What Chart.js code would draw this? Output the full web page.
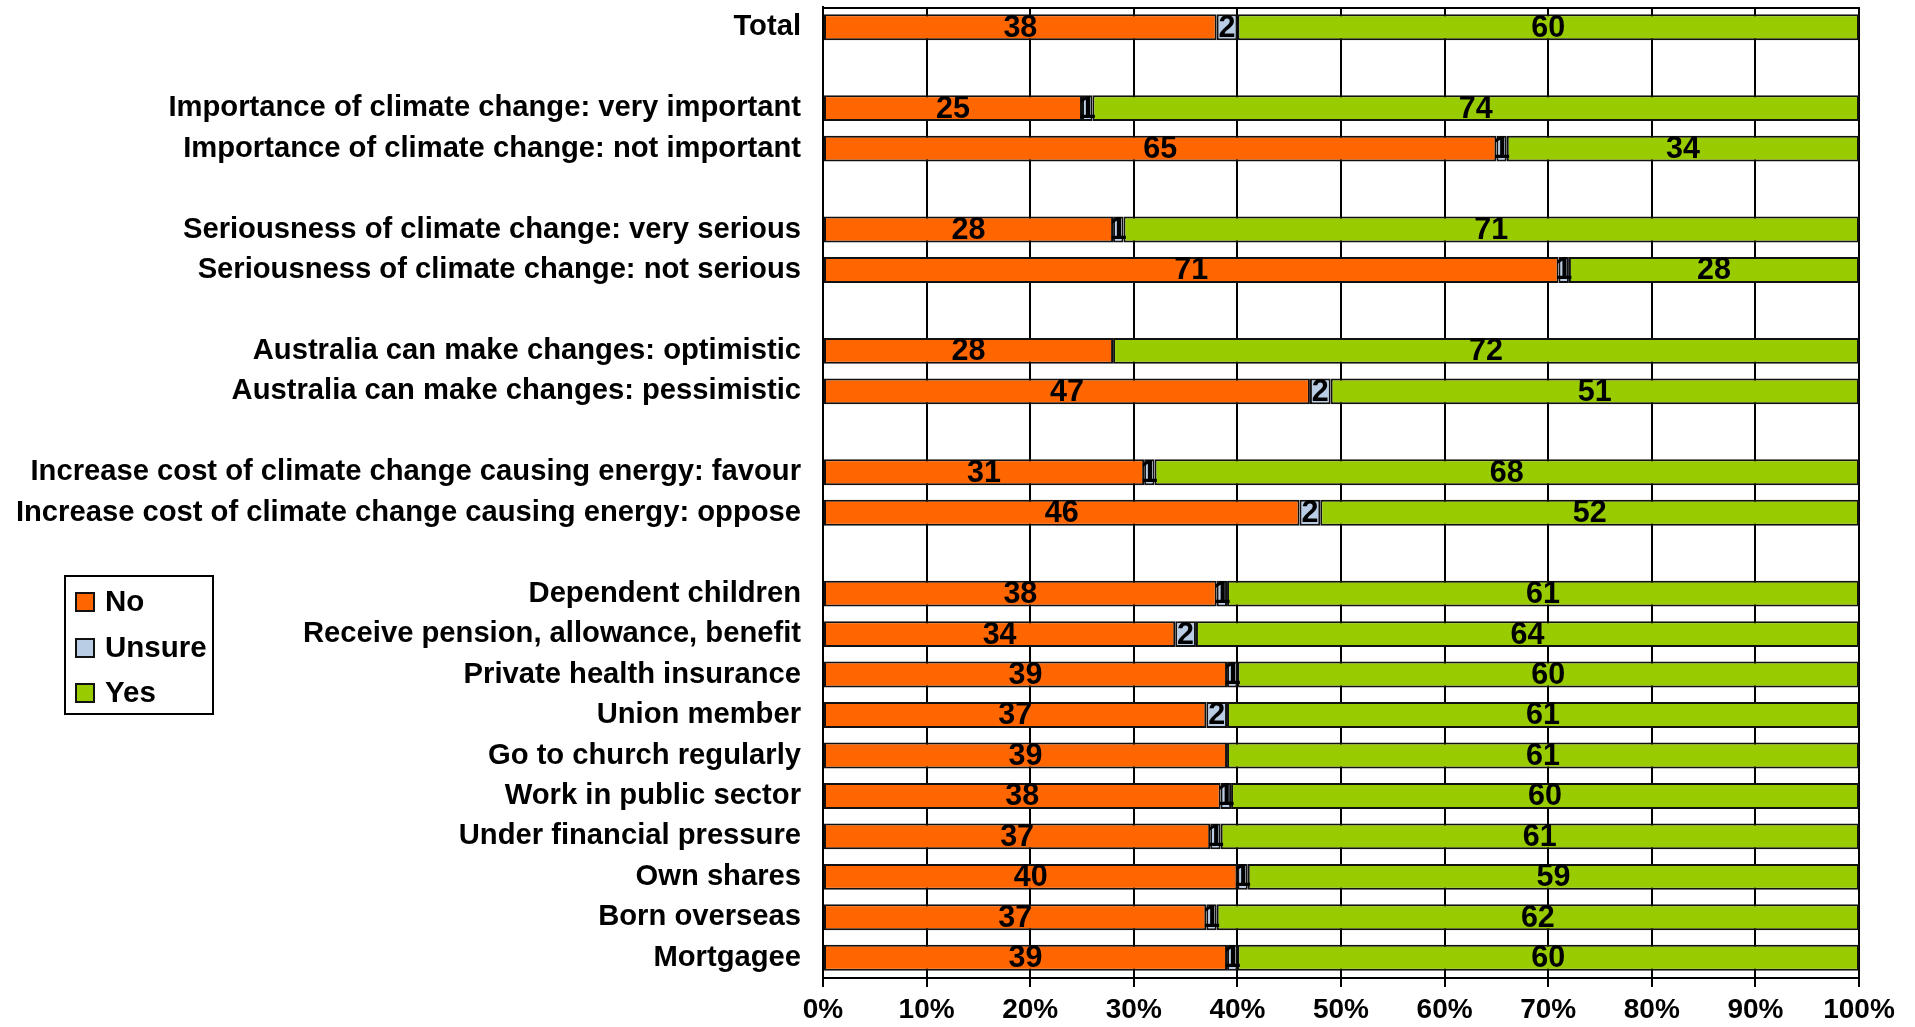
<!DOCTYPE html>
<html>
<head>
<meta charset="utf-8">
<script src="https://cdn.jsdelivr.net/npm/chart.js@4.4.1/dist/chart.umd.min.js"></script>
<style>
  html, body { margin: 0; padding: 0; background: #ffffff; }
  #wrap { width: 1915px; height: 1027px; position: relative; }
</style>
</head>
<body>
<div id="wrap"><canvas id="c" width="1915" height="1027"></canvas></div>
<script>
const categories = [
  "Total", "",
  "Importance of climate change: very important",
  "Importance of climate change: not important", "",
  "Seriousness of climate change: very serious",
  "Seriousness of climate change: not serious", "",
  "Australia can make changes: optimistic",
  "Australia can make changes: pessimistic", "",
  "Increase cost of climate change causing energy: favour",
  "Increase cost of climate change causing energy: oppose", "",
  "Dependent children",
  "Receive pension, allowance, benefit",
  "Private health insurance",
  "Union member",
  "Go to church regularly",
  "Work in public sector",
  "Under financial pressure",
  "Own shares",
  "Born overseas",
  "Mortgagee"
];
const seriesNames = ["No", "Unsure", "Yes"];
const noValues     = [38, null, 25, 65, null, 28, 71, null, 28, 47, null, 31, 46, null, 38, 34, 39, 37, 39, 38, 37, 40, 37, 39];
const unsureValues = [2,  null, 1,  1,  null, 1,  1,  null, 0,  2,  null, 1,  2,  null, 1,  2,  1,  2,  0,  1,  1,  1,  1,  1];
const yesValues    = [60, null, 74, 34, null, 71, 28, null, 72, 51, null, 68, 52, null, 61, 64, 60, 61, 61, 60, 61, 59, 62, 60];
const xTickValues  = [0, 10, 20, 30, 40, 50, 60, 70, 80, 90, 100];
const colors = ["#FF6600", "#B9CDE5", "#99CC00"];

const FONT = "'Liberation Sans', Arial, Helvetica, sans-serif";
const rawSeries = [noValues, unsureValues, yesValues];
// 100% stacked: normalise each row
const totals = categories.map((_, i) => rawSeries.reduce((s, a) => s + (a[i] || 0), 0));
const pctSeries = rawSeries.map(a => a.map((v, i) => (v === null || totals[i] === 0) ? null : v / totals[i] * 100));

const datasets = seriesNames.map((name, k) => ({
  label: name,
  data: pctSeries[k],
  raw: rawSeries[k],
  backgroundColor: colors[k],
  borderColor: "#111111",
  borderWidth: 2,
  borderSkipped: false,
  barPercentage: 1.0,
  categoryPercentage: 0.64
}));

const valueLabels = {
  id: "valueLabels",
  afterDatasetsDraw(chart) {
    const ctx = chart.ctx;
    ctx.save();
    ctx.font = "bold 30.5px " + FONT;
    ctx.fillStyle = "#000";
    ctx.textAlign = "center";
    ctx.textBaseline = "middle";
    chart.data.datasets.forEach((ds, di) => {
      const meta = chart.getDatasetMeta(di);
      meta.data.forEach((el, i) => {
        const v = ds.raw[i];
        if (v === null || v === 0) return;
        const p = el.getProps(["x", "y", "base"], true);
        ctx.fillText(String(v), (p.x + p.base) / 2, p.y + 1);
      });
    });
    ctx.restore();
  }
};

const frameAndLegend = {
  id: "frameAndLegend",
  beforeDatasetsDraw(chart) {
    const a = chart.chartArea, ctx = chart.ctx;
    ctx.save();
    ctx.strokeStyle = "#000";
    ctx.lineWidth = 2;
    ctx.beginPath();
    ctx.moveTo(a.left, a.top + 1);
    ctx.lineTo(a.right, a.top + 1);
    ctx.stroke();
    ctx.restore();
  },
  afterDraw(chart) {
    const ctx = chart.ctx;
    ctx.save();
    ctx.fillStyle = "#fff";
    ctx.fillRect(65, 576, 148, 138);
    ctx.strokeStyle = "#000";
    ctx.lineWidth = 2;
    ctx.strokeRect(65, 576, 148, 138);
    const ys = [602, 648, 693];
    ctx.font = "bold 29.5px " + FONT;
    ctx.textBaseline = "middle";
    ctx.textAlign = "left";
    chart.data.datasets.forEach((ds, k) => {
      ctx.fillStyle = ds.backgroundColor;
      ctx.fillRect(76, ys[k] - 9, 18, 18);
      ctx.strokeStyle = "#111";
      ctx.lineWidth = 2;
      ctx.strokeRect(76, ys[k] - 9, 18, 18);
      ctx.fillStyle = "#000";
      ctx.fillText(ds.label, 105, ys[k] + 1);
    });
    ctx.restore();
  }
};

new Chart(document.getElementById("c"), {
  type: "bar",
  data: { labels: categories, datasets: datasets },
  plugins: [valueLabels, frameAndLegend],
  options: {
    indexAxis: "y",
    responsive: false,
    animation: false,
    devicePixelRatio: 1,
    layout: { padding: { left: 0, right: 56, top: 7, bottom: 0 } },
    plugins: { legend: { display: false }, tooltip: { enabled: false } },
    scales: {
      x: {
        stacked: true,
        min: 0, max: 100,
        afterBuildTicks(scale) { scale.ticks = xTickValues.map(v => ({ value: v })); },
        afterFit(scale) { scale.height = 49; },
        grid: { color: "#000", lineWidth: 2, drawTicks: true, tickLength: 9, tickColor: "#000" },
        border: { display: true, color: "#000", width: 2 },
        ticks: {
          color: "#000",
          padding: 6,
          maxRotation: 0,
          autoSkip: false,
          font: { family: FONT, size: 28, weight: "bold" },
          callback: v => v + "%"
        }
      },
      y: {
        stacked: true,
        afterFit(scale) { scale.width = 823; scale.paddingTop = 0; scale.paddingBottom = 0; },
        grid: { display: false, drawTicks: false },
        border: { display: true, color: "#000", width: 2 },
        ticks: {
          color: "#000",
          padding: 22,
          autoSkip: false,
          font: { family: FONT, size: 29.2, weight: "bold" }
        }
      }
    }
  }
});
</script>
</body>
</html>
